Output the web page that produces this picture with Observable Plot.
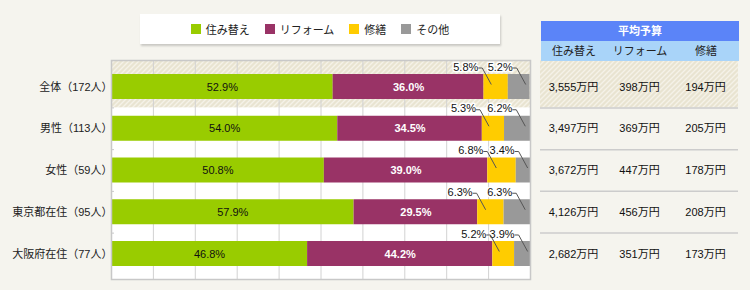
<!DOCTYPE html>
<html><head><meta charset="utf-8">
<script src="https://cdn.jsdelivr.net/npm/d3@7"></script>
<script src="https://cdn.jsdelivr.net/npm/@observablehq/plot@0.6"></script>
<style>
body{margin:0;background:#f5f4ee;font-family:"Liberation Sans",Arial,"Noto Sans CJK JP",sans-serif;}
#wrap{position:relative;width:750px;height:290px;overflow:hidden;}
#chart,#table{position:absolute;top:0;}
#chart{left:0}
#table{left:540px}
#legend{position:absolute;left:140px;top:14px;width:360px;height:30px;background:#fff;box-shadow:1px 2px 2px rgba(0,0,0,0.18);display:flex;align-items:center;justify-content:center;font-size:11px;color:#222}
.item{display:flex;align-items:center;margin:0 7.5px}
.sw{width:10px;height:10px;margin-right:5px}
#thead{position:absolute;left:541px;top:21px;width:198px;z-index:2;font-size:11px}
#ttitle{height:20px;line-height:20px;background:#5b84f8;color:#fff;font-weight:bold;text-align:center}
#tcols{height:20px;line-height:20px;background:#a9d4f9;color:#222;display:flex}
#tcols span{width:66px;text-align:center}
</style>
</head><body>
<svg width="0" height="0" style="position:absolute">
 <defs>
  <pattern id="hatch" patternUnits="userSpaceOnUse" width="5" height="5">
   <rect width="5" height="5" fill="#e9e4d1"></rect>
   <path d="M-1,1 L1,-1 M0,5 L5,0 M4,6 L6,4" stroke="#f5f2e8" stroke-width="1.4"></path>
  </pattern>
 </defs>
</svg>
<div id="wrap">
 <div id="chart"></div>
 <div id="table"></div>
 <div id="legend"></div>
 <div id="thead"><div id="ttitle"></div><div id="tcols"></div></div>
</div>
<script>
const categories = ["全体（172人）","男性（113人）","女性（59人）","東京都在住（95人）","大阪府在住（77人）"];
const series = ["住み替え","リフォーム","修繕","その他"];
const sumikae = [52.9,54.0,50.8,57.9,46.8];
const reform  = [36.0,34.5,39.0,29.5,44.2];
const shuzen  = [5.8,5.3,6.8,6.3,5.2];
const sonota  = [5.2,6.2,3.4,6.3,3.9];
const colors = ["#99cc00","#993366","#ffcc00","#999999"];

const tableTitle = "平均予算";
const budgetCols = ["住み替え","リフォーム","修繕"];
const budgetSumikae = [3555,3497,3672,4126,2682];
const budgetReform  = [398,369,447,456,351];
const budgetShuzen  = [194,205,178,208,173];

const FONT = '"Liberation Sans", Arial, "Noto Sans CJK JP", sans-serif';
const yDomain = [-0.635, 4.611];
const kx = 100/419, ky = 1/41.75; // data units per pixel
const hb = 12.5*ky;

const segs = [];
categories.forEach((c,i)=>{
  const vals=[sumikae[i],reform[i],shuzen[i],sonota[i]];
  let acc=0;
  vals.forEach((v,j)=>{segs.push({i,c,s:series[j],j,v,x1:acc,x2:acc+v});acc+=v;});
});
const outer = segs.filter(d=>d.j>=2).map(d=>({...d,ex:d.x1+(d.j===2?0.3:0.8)*d.v}));
const seps = categories.slice(1).map((_,k)=>k+0.5);
const pct = d=>d.v.toFixed(1)+"%";

const chart = Plot.plot({
  width:540,height:290,marginLeft:111,marginRight:10,marginTop:60,marginBottom:11,
  style:{fontSize:"11px",fontFamily:FONT,background:"transparent",color:"#222"},
  x:{domain:[0,100],axis:null},
  y:{domain:yDomain,reverse:true,axis:null},
  color:{domain:series,range:colors},
  marks:[
    Plot.frame({fill:"white",stroke:null}),
    Plot.rect([0],{x1:0,x2:100,y1:yDomain[0],y2:0.5,fill:"url(#hatch)"}),
    Plot.ruleX(d3.range(10,100,10),{stroke:"#d2d2d2"}),
    Plot.ruleY(seps,{x1:0,x2:3*kx,stroke:"#c8c8c8"}),
    Plot.rect(segs,{x1:"x1",x2:"x2",y1:d=>d.i-hb,y2:d=>d.i+hb,fill:"s"}),
    Plot.text(segs.filter(d=>d.j===0),{x:d=>(d.x1+d.x2)/2,y:"i",text:pct,fill:"#111"}),
    Plot.text(segs.filter(d=>d.j===1),{x:d=>(d.x1+d.x2)/2,y:"i",text:pct,fill:"white",fontWeight:"bold"}),
    Plot.text(outer,{x:"ex",y:"i",dx:-13,dy:-20,textAnchor:"end",text:pct,fill:"#111",stroke:"white",strokeWidth:3}),
    Plot.link(outer,{x1:d=>d.ex-13*kx,x2:d=>d.ex-9*kx,y1:d=>d.i-19*ky,y2:d=>d.i-19*ky,stroke:"#555"}),
    Plot.link(outer,{x1:d=>d.ex-9*kx,x2:"ex",y1:d=>d.i-19*ky,y2:d=>d.i-2.5*ky,stroke:"#555"}),
    Plot.axisY(d3.range(categories.length),{tickFormat:i=>categories[i],tickSize:0,tickPadding:-1,label:null,fontSize:11,fill:"#222"}),
    Plot.frame({stroke:"#c8c8c8",strokeWidth:1.5})
  ]
});
document.getElementById("chart").appendChild(chart);

const tableRows = categories.flatMap((c,i)=>[budgetSumikae[i],budgetReform[i],budgetShuzen[i]].map((v,k)=>({i,col:budgetCols[k],v})));
const table = Plot.plot({
  width:198,height:290,marginLeft:0,marginRight:0,marginTop:60,marginBottom:11,
  style:{fontSize:"11px",fontFamily:FONT,background:"transparent",color:"#222"},
  x:{type:"point",domain:budgetCols,padding:0.5,axis:null},
  y:{domain:yDomain,reverse:true,axis:null},
  marks:[
    Plot.rect([0],{y1:yDomain[0],y2:0.5,fill:"url(#hatch)"}),
    Plot.ruleY(seps,{stroke:"#cccccc",strokeWidth:1.5}),
    Plot.text(tableRows,{x:"col",y:"i",text:d=>d3.format(",")(d.v)+"万円",fill:"#111"})
  ]
});
document.getElementById("table").appendChild(table);

// legend
const cs = chart.scale("color");
const lg = document.getElementById("legend");
series.forEach(s=>{
  const it=document.createElement("div");it.className="item";
  const sw=document.createElement("span");sw.className="sw";sw.style.background=cs.apply(s);
  const t=document.createElement("span");t.textContent=s;
  it.appendChild(sw);it.appendChild(t);lg.appendChild(it);
});
document.getElementById("ttitle").textContent=tableTitle;
const tc=document.getElementById("tcols");
budgetCols.forEach(c=>{const s=document.createElement("span");s.textContent=c;tc.appendChild(s);});
</script>
</body></html>
